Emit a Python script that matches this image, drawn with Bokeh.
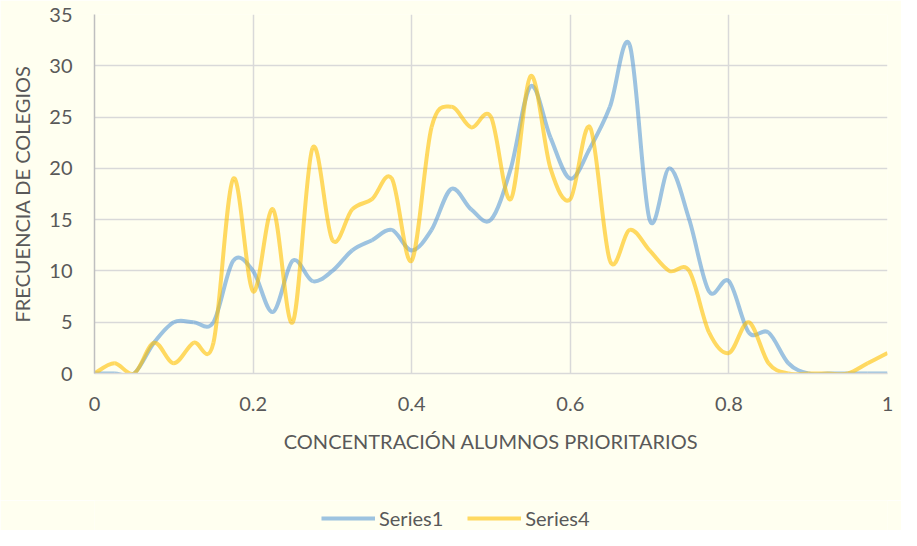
from bokeh.plotting import figure
from bokeh.layouts import column
from bokeh.models import Range1d, FixedTicker, ColumnDataSource, Legend, LegendItem
from bokeh.embed import file_html
from bokeh.resources import INLINE

# ---- data ----
x_vals = [0.0, 0.025, 0.05, 0.075, 0.1, 0.125, 0.15, 0.175, 0.2, 0.225,
          0.25, 0.275, 0.3, 0.325, 0.35, 0.375, 0.4, 0.425, 0.45, 0.475,
          0.5, 0.525, 0.55, 0.575, 0.6, 0.625, 0.65, 0.675, 0.7, 0.725,
          0.75, 0.775, 0.8, 0.825, 0.85, 0.875, 0.9, 0.925, 0.95, 0.975, 1.0]
series1 = [0, 0, 0, 3, 5, 5, 5, 11, 10, 6,
           11, 9, 10, 12, 13, 14, 12, 14, 18, 16,
           15, 20, 28, 23, 19, 22, 26, 32, 15, 20,
           15, 8, 9, 4, 4, 1, 0, 0, 0, 0, 0]
series4 = [0, 1, 0, 3, 1, 3, 3, 19, 8, 16,
           5, 22, 13, 16, 17, 19, 11, 24, 26, 24,
           25, 17, 29, 20, 17, 24, 11, 14, 12, 10,
           10, 4, 2, 5, 1, 0, 0, 0, 0, 1, 2]
series_names = ["Series1", "Series4"]
x_ticks = [0, 0.2, 0.4, 0.6, 0.8, 1]
x_tick_labels = ["0", "0.2", "0.4", "0.6", "0.8", "1"]
y_ticks = [0, 5, 10, 15, 20, 25, 30, 35]

BG = "#FFFFF0"
TXT = "#595959"
FONT = "Lato"
COLORS = ["#5B9BD5", "#FFC000"]


def smooth_segments(xs, ys):
    """Excel-like smoothed line: cubic Bezier segments (Catmull-Rom control points)."""
    n = len(xs)
    d = dict(x0=[], y0=[], x1=[], y1=[], cx0=[], cy0=[], cx1=[], cy1=[])
    for i in range(n - 1):
        a = max(i - 1, 0)
        b = min(i + 2, n - 1)
        d["x0"].append(xs[i]); d["y0"].append(ys[i])
        d["x1"].append(xs[i + 1]); d["y1"].append(ys[i + 1])
        d["cx0"].append(xs[i] + (xs[i + 1] - xs[a]) / 6.0)
        d["cy0"].append(ys[i] + (ys[i + 1] - ys[a]) / 6.0)
        d["cx1"].append(xs[i + 1] - (xs[b] - xs[i]) / 6.0)
        d["cy1"].append(ys[i + 1] - (ys[b] - ys[i]) / 6.0)
    return ColumnDataSource(d)


# ---- main chart ----
fig = figure(width=901, height=500, output_backend="svg", toolbar_location=None,
             x_range=Range1d(0, 1), y_range=Range1d(0, 35),
             min_border_left=94, min_border_right=14, min_border_top=14, min_border_bottom=127)
fig.background_fill_color = BG
fig.border_fill_color = BG
fig.outline_line_color = None

for ys, col in zip([series1, series4], COLORS):
    src = smooth_segments(x_vals, ys)
    fig.bezier(x0="x0", y0="y0", x1="x1", y1="y1", cx0="cx0", cy0="cy0", cx1="cx1", cy1="cy1",
               source=src, line_color=col, line_width=4, line_alpha=0.6, line_cap="butt")

fig.xaxis.ticker = FixedTicker(ticks=x_ticks)
fig.xaxis.major_label_overrides = dict(zip(x_ticks, x_tick_labels))
fig.yaxis.ticker = FixedTicker(ticks=y_ticks)
for ax in (fig.xaxis, fig.yaxis):
    ax.major_tick_line_color = None
    ax.minor_tick_line_color = None
    ax.major_tick_out = 0
    ax.major_tick_in = 0
    ax.major_label_text_font = FONT
    ax.major_label_text_font_size = "20px"
    ax.major_label_text_color = TXT
    ax.axis_label_text_font = FONT
    ax.axis_label_text_font_size = "20px"
    ax.axis_label_text_font_style = "normal"
    ax.axis_label_text_color = TXT
fig.xaxis.axis_line_color = "#D9D9D9"
fig.xaxis.axis_line_width = 1.5
fig.yaxis.axis_line_color = "#BFBFBF"
fig.yaxis.axis_line_width = 1.5
fig.xaxis.axis_label = "CONCENTRACIÓN ALUMNOS PRIORITARIOS"
fig.yaxis.axis_label = "FRECUENCIA DE COLEGIOS"
fig.xaxis.major_label_standoff = 23
fig.xaxis.axis_label_standoff = 15
fig.yaxis.major_label_standoff = 22
fig.yaxis.axis_label_standoff = 12

fig.xgrid.ticker = FixedTicker(ticks=x_ticks)
fig.ygrid.ticker = FixedTicker(ticks=y_ticks)
fig.grid.grid_line_color = "#D9D9D9"
fig.grid.grid_line_width = 1.5

# ---- legend strip (series lines here lie outside its view; only the legend shows) ----
leg = figure(width=901, height=30, output_backend="svg", toolbar_location=None,
             x_range=Range1d(0, 1), y_range=Range1d(-100, -99),
             x_axis_location=None, y_axis_location=None,
             min_border_left=0, min_border_right=0, min_border_top=0, min_border_bottom=0)
leg.background_fill_color = BG
leg.border_fill_color = BG
leg.outline_line_color = None
leg.grid.visible = False
items = []
for name, ys, col in zip(series_names, [series1, series4], COLORS):
    r = leg.line(x=x_vals, y=ys, line_color=col, line_width=4, line_alpha=0.6)
    items.append(LegendItem(label=name, renderers=[r]))
legend = Legend(items=items, orientation="horizontal", location=(227, 0),
                padding=0, margin=0, spacing=24, label_standoff=4,
                glyph_width=54, glyph_height=20, label_height=20,
                background_fill_alpha=0, border_line_color=None,
                label_text_font=FONT, label_text_font_size="20px", label_text_color=TXT)
leg.add_layout(legend, "center")

p = column(fig, leg, spacing=0)

open("out.html", "w").write(file_html(p, INLINE))
